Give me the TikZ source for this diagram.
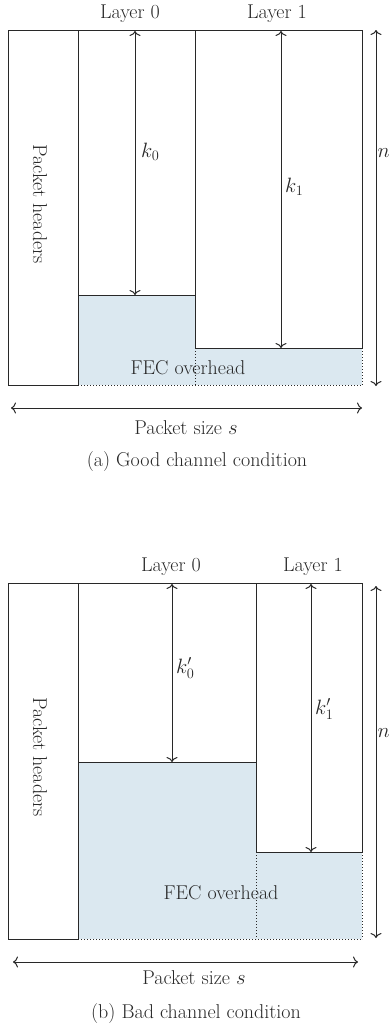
\documentclass[tikz,border=0pt]{standalone}
\usetikzlibrary{arrows.meta}
\definecolor{fecblue}{RGB}{219,232,240}
\definecolor{ink}{RGB}{40,40,40}
\begin{document}
\begin{tikzpicture}[x=1pt,y=-1pt,
  solidline/.style={draw=ink,line width=1pt},
  dotline/.style={draw=ink,line width=1pt,dash pattern=on 1pt off 2pt},
  dimarrow/.style={draw=ink,line width=1pt,{To[length=5pt,width=11pt]}-{To[length=5pt,width=11pt]}},
  lbl/.style={text=ink,inner sep=0pt,font=\fontsize{20}{24}\selectfont},
  fec/.style={fill=fecblue,draw=none}]
\useasboundingbox (0,0) rectangle (391,1028);

% ---------- (a) good channel ----------
\fill[fecblue] (78,295) rectangle (195,385);
\fill[fecblue] (195,348) rectangle (362,385);
\draw[solidline] (8,30) rectangle (78,385);
\draw[solidline] (78,30) -- (362,30) -- (362,348) -- (195,348);
\draw[solidline] (195,30) -- (195,348);
\draw[solidline] (78,295) -- (195,295);
\draw[dotline] (195,348) -- (195,385);
\draw[dotline] (362,348) -- (362,385);
\draw[dotline] (78,385) -- (362,385);

\coordinate (a0t) at (135,31);
\coordinate (a0b) at (135,295);
\coordinate (a1t) at (281,31);
\coordinate (a1b) at (281,348);
\coordinate (ant) at (376,30);
\coordinate (anb) at (376,386);
\coordinate (asl) at (11,408);
\coordinate (asr) at (362,408);
\draw[dimarrow] (a0t) -- (a0b);
\draw[dimarrow] (a1t) -- (a1b);
\draw[dimarrow] (ant) -- (anb);
\draw[dimarrow] (asl) -- (asr);

\node[lbl] (aL0) at (130,14) {Layer 0};
\node[lbl] (aL1) at (277,14) {Layer 1};
\node[lbl,rotate=-90] (aPH) at (40,204) {Packet headers};
\node[lbl,anchor=west] (ak0) at (141,152) {$k_0$};
\node[lbl,anchor=west] (ak1) at (285,187) {$k_1$};
\node[lbl,anchor=east] (an) at (390,153) {$n$};
\node[lbl] (afec) at (188,368) {FEC overhead};
\node[lbl] (as) at (186,428) {Packet size $s$};
\node[lbl] (acap) at (197,462) {(a) Good channel condition};

% ---------- (b) bad channel ----------
\fill[fecblue] (78,762) rectangle (256,939);
\fill[fecblue] (256,852) rectangle (362,939);
\draw[solidline] (8,583) rectangle (78,939);
\draw[solidline] (78,583) -- (362,583) -- (362,852) -- (256,852);
\draw[solidline] (256,583) -- (256,852);
\draw[solidline] (78,762) -- (256,762);
\draw[dotline] (256,852) -- (256,939);
\draw[dotline] (362,852) -- (362,939);
\draw[dotline] (78,939) -- (362,939);

\coordinate (b0t) at (172,584);
\coordinate (b0b) at (172,762);
\coordinate (b1t) at (311,584);
\coordinate (b1b) at (311,852);
\coordinate (bnt) at (376,586);
\coordinate (bnb) at (376,938);
\coordinate (bsl) at (13,962);
\coordinate (bsr) at (358,962);
\draw[dimarrow] (b0t) -- (b0b);
\draw[dimarrow] (b1t) -- (b1b);
\draw[dimarrow] (bnt) -- (bnb);
\draw[dimarrow] (bsl) -- (bsr);

\node[lbl] (bL0) at (171,567) {Layer 0};
\node[lbl] (bL1) at (313,567) {Layer 1};
\node[lbl,rotate=-90] (bPH) at (40,757) {Packet headers};
\node[lbl,anchor=west] (bk0) at (176,668) {$k'_0$};
\node[lbl,anchor=west] (bk1) at (315,709) {$k'_1$};
\node[lbl,anchor=east] (bn) at (390,733) {$n$};
\node[lbl] (bfec) at (221,893) {FEC overhead};
\node[lbl] (bs) at (194,978) {Packet size $s$};
\node[lbl] (bcap) at (196,1013) {(b) Bad channel condition};
\end{tikzpicture}
\end{document}
